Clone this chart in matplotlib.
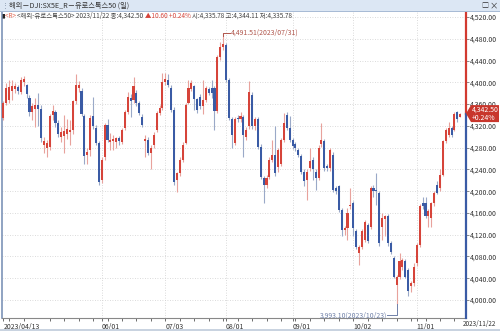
# -*- coding: utf-8 -*-
# Euro Stoxx 50 daily candles, HTS-style chart
import matplotlib
matplotlib.use('Agg')
import matplotlib.pyplot as plt
from matplotlib.patches import Polygon, Rectangle
import numpy as np
import pandas as pd

plt.rcParams['font.family'] = ['Noto Sans CJK KR', 'DejaVu Sans']

# trading days (Eurex, May 1 closed)
dates = pd.bdate_range('2023-04-13', '2023-11-22')
dates = dates[dates != pd.Timestamp('2023-05-01')]

opens = [4335, 4363, 4368, 4385, 4388, 4392, 4382, 4400, 4395, 4372,
         4346, 4352, 4358, 4352, 4284, 4280, 4282, 4340, 4345, 4325,
         4300, 4302, 4306, 4308, 4312, 4365, 4390, 4385, 4338, 4266,
         4275, 4339, 4317, 4289, 4221, 4262, 4322, 4290, 4292, 4290,
         4298, 4291, 4317, 4346, 4372, 4368, 4380, 4362, 4337, 4292,
         4295, 4271, 4285, 4313, 4344, 4353, 4400, 4405, 4390, 4350,
         4221, 4233, 4258, 4289, 4363, 4388, 4393, 4369, 4374, 4356,
         4368, 4387, 4390, 4390, 4347, 4446, 4465, 4468, 4405, 4332,
         4289, 4335, 4332, 4336, 4300, 4319, 4377, 4319, 4332, 4282,
         4224, 4212, 4227, 4258, 4267, 4245, 4250, 4295, 4340, 4316,
         4295, 4286, 4276, 4264, 4236, 4221, 4243, 4258, 4236, 4224,
         4286, 4292, 4246, 4243, 4267, 4206, 4209, 4166, 4129, 4132,
         4172, 4178, 4126, 4086, 4098, 4111, 4138, 4135, 4206, 4203,
         4197, 4135, 4149, 4154, 4105, 4077, 4028, 4043, 4061, 4071,
         4055, 4025, 4031, 4068, 4101, 4178, 4178, 4154, 4150, 4178,
         4212, 4206, 4230, 4292, 4304, 4316, 4313, 4345, 4335.78]
highs = [4366, 4399, 4405, 4405, 4398, 4396, 4410, 4412, 4397, 4376,
         4362, 4372, 4380, 4358, 4300, 4295, 4342, 4358, 4350, 4330,
         4318, 4340, 4332, 4330, 4368, 4415, 4402, 4390, 4342, 4280,
         4340, 4374, 4322, 4292, 4262, 4326, 4332, 4307, 4304, 4300,
         4302, 4316, 4350, 4383, 4378, 4409, 4386, 4366, 4341, 4304,
         4300, 4285, 4308, 4348, 4358, 4418, 4418, 4415, 4395, 4354,
         4236, 4262, 4290, 4362, 4405, 4405, 4396, 4372, 4378, 4405,
         4394, 4392, 4405, 4394, 4450, 4474, 4491.51, 4472, 4408, 4336,
         4336, 4340, 4345, 4340, 4318, 4402, 4382, 4336, 4336, 4286,
         4228, 4230, 4262, 4295, 4319, 4280, 4298, 4344, 4346, 4338,
         4298, 4290, 4280, 4268, 4240, 4240, 4280, 4262, 4240, 4284,
         4326, 4296, 4250, 4280, 4272, 4210, 4212, 4170, 4136, 4169,
         4206, 4182, 4130, 4102, 4130, 4147, 4142, 4210, 4212, 4233,
         4200, 4160, 4156, 4158, 4108, 4080, 4046, 4086, 4078, 4075,
         4058, 4035, 4068, 4105, 4176, 4190, 4190, 4168, 4180, 4200,
         4218, 4240, 4295, 4316, 4328, 4320, 4345, 4348, 4344.11]
lows = [4330, 4358, 4362, 4368, 4380, 4378, 4378, 4393, 4372, 4338,
        4330, 4318, 4320, 4290, 4270, 4262, 4276, 4330, 4318, 4300,
        4290, 4270, 4296, 4285, 4305, 4360, 4382, 4338, 4250, 4250,
        4265, 4315, 4285, 4212, 4215, 4258, 4290, 4276, 4276, 4280,
        4285, 4286, 4312, 4342, 4337, 4362, 4356, 4340, 4318, 4262,
        4266, 4240, 4280, 4308, 4340, 4350, 4396, 4392, 4346, 4212,
        4199, 4228, 4254, 4286, 4360, 4384, 4350, 4344, 4352, 4341,
        4364, 4376, 4372, 4313, 4343, 4442, 4460, 4400, 4330, 4280,
        4285, 4328, 4328, 4262, 4294, 4315, 4315, 4312, 4278, 4222,
        4179, 4205, 4222, 4254, 4228, 4236, 4246, 4290, 4312, 4290,
        4278, 4274, 4262, 4232, 4209, 4184, 4238, 4221, 4203, 4220,
        4282, 4238, 4238, 4238, 4198, 4194, 4162, 4117, 4120, 4111,
        4168, 4117, 4094, 4065, 4094, 4106, 4104, 4130, 4190, 4175,
        4100, 4111, 4117, 4100, 4085, 4040, 3993.10, 4038, 4055, 4040,
        4008, 4015, 4025, 4062, 4098, 4168, 4150, 4135, 4135, 4172,
        4195, 4200, 4228, 4288, 4300, 4300, 4310, 4328, 4335.78]
closes = [4362, 4390, 4392, 4393, 4393, 4384, 4405, 4407, 4378, 4345,
          4356, 4358, 4352, 4298, 4292, 4288, 4338, 4348, 4325, 4305,
          4308, 4310, 4314, 4312, 4365, 4395, 4396, 4342, 4265, 4272,
          4335, 4319, 4289, 4217, 4258, 4322, 4295, 4295, 4296, 4297,
          4292, 4313, 4346, 4374, 4366, 4393, 4362, 4344, 4322, 4296,
          4270, 4280, 4304, 4344, 4353, 4400, 4407, 4395, 4350, 4217,
          4233, 4258, 4285, 4359, 4390, 4398, 4369, 4350, 4356, 4368,
          4390, 4381, 4381, 4347, 4446, 4465, 4470, 4405, 4335, 4304,
          4332, 4332, 4338, 4304, 4312, 4383, 4319, 4332, 4282, 4227,
          4212, 4224, 4258, 4267, 4233, 4276, 4295, 4326, 4316, 4295,
          4283, 4280, 4267, 4236, 4218, 4236, 4255, 4240, 4224, 4280,
          4295, 4243, 4243, 4276, 4203, 4200, 4166, 4129, 4132, 4160,
          4175, 4132, 4098, 4098, 4126, 4143, 4108, 4206, 4200, 4200,
          4105, 4151, 4154, 4105, 4089, 4043, 4043, 4071, 4074, 4043,
          4016, 4031, 4061, 4101, 4172, 4172, 4154, 4163, 4178, 4197,
          4197, 4230, 4292, 4313, 4316, 4304, 4341, 4331.90, 4342.50]

o = np.array(opens); h = np.array(highs); l = np.array(lows); c = np.array(closes)
x = np.arange(len(dates))

RED, BLUE = '#d6443a', '#3a5ba5'
RED_W, BLUE_W = '#e8a29c', '#9aa9c8'
up = c >= o

W, H = 500, 331
fig = plt.figure(figsize=(W / 100, H / 100), dpi=100)
fig.patch.set_facecolor('white')

ax = fig.add_axes([2 / W, 13 / H, 464 / W, 306 / H])
ax.set_xlim(-0.5, 160.0)
ax.set_ylim(3966.9, 4529.4)

# grid
yt = np.arange(4000, 4521, 40)
for v in yt:
    ax.axhline(v, color='#cfcfcf', lw=0.6, ls=(0, (1, 2)), zorder=0)
month_idx = [i for i in range(1, len(dates)) if dates[i].month != dates[i - 1].month]
month_idx = [m for m in month_idx if m > 20]   # May start too close to the first label
for i in month_idx:
    ax.axvline(i, color='#cfcfcf', lw=0.6, ls=(0, (1, 2)), zorder=0)

# candles
ax.vlines(x, l, h, colors=np.where(up, RED_W, BLUE_W), lw=0.8, zorder=2)
body = np.maximum(np.abs(c - o), 1.5)
ax.bar(x, body, bottom=np.minimum(o, c), width=0.72,
       color=np.where(up, RED, BLUE), linewidth=0, zorder=3)

# x axis
ax.set_xticks([0] + month_idx)
ax.set_xticklabels(['2023/04/13'] + [dates[i].strftime('%m/%d') for i in month_idx],
                   ha='left', fontsize=5, color='#333333')
mondays = [i for i in range(len(dates)) if dates[i].dayofweek == 0]
ax.set_xticks(mondays, minor=True)
ax.tick_params(axis='x', which='both', direction='out', length=2, width=0.6,
               color='#555555', pad=1.5)

# y axis on the right
ax.yaxis.tick_right()
ax.set_yticks(yt)
ax.set_yticklabels(['{:,.2f}'.format(v) for v in yt], fontsize=5, color='#333333')
ax.tick_params(axis='y', direction='out', length=2, width=0.6, color='#777777', pad=0.5)

for s in ['top', 'right']:
    ax.spines[s].set_visible(False)
ax.spines['left'].set_color('#7d93b8')
ax.spines['left'].set_linewidth(1.2)
ax.spines['bottom'].set_color('#888888')
ax.spines['bottom'].set_linewidth(0.8)

# price axis line: red above last price, blue below
xr = ax.get_xlim()[1]
ax.plot([xr, xr], [c[-1], ax.get_ylim()[1]], color='#d23a30', lw=1.6, clip_on=False, zorder=5)
ax.plot([xr, xr], [ax.get_ylim()[0], c[-1]], color='#3a5ba5', lw=1.6, clip_on=False, zorder=5)

# high / low annotations
ih = int(np.argmax(h))
ax.plot([ih, ih, ih + 2.5], [h[ih] - 6, h[ih], h[ih]], color='#b0564c', lw=0.7, zorder=4)
ax.text(ih + 2.7, h[ih], '{:,.2f}({})'.format(h[ih], dates[ih].strftime('%Y/%m/%d')),
        fontsize=5, color='#b0564c', va='center', ha='left')
il = int(np.argmin(l))
ylow = l[il] - 21
ax.plot([il, il, il - 3.2], [l[il], ylow, ylow], color='#6f80a8', lw=0.7, zorder=4, clip_on=False)
ax.text(il - 3.4, ylow, '{:,.2f}({})'.format(l[il], dates[il].strftime('%Y/%m/%d')),
        fontsize=5, color='#6f80a8', va='center', ha='right')

# last date under the price axis
fig.text(463 / W, 1 - 324 / H, dates[-1].strftime('%Y/%m/%d'), fontsize=4.6,
         color='#333333', va='center', ha='left')

# current price tag
yp = 1 - 113.6 / H
tag = [(466 / W, yp), (471 / W, yp + 8.5 / H), (499 / W, yp + 8.5 / H),
       (499 / W, yp - 8.5 / H), (471 / W, yp - 8.5 / H)]
fig.add_artist(Polygon(tag, closed=True, transform=fig.transFigure,
                       facecolor='#c8362c', edgecolor='none', zorder=5))
chg = c[-1] - c[-2]
fig.text(472 / W, yp + 3.8 / H, '{:,.2f}'.format(c[-1]), fontsize=5, color='white',
         va='center', ha='left', zorder=6)
fig.text(472 / W, yp - 4.2 / H, '{:+.2f}%'.format(chg / c[-2] * 100), fontsize=5,
         color='white', va='center', ha='left', zorder=6)

# title bar
fig.add_artist(Rectangle((0, 1 - 11 / H), 1, 11 / H, transform=fig.transFigure,
                         facecolor='#dce7f4', edgecolor='none', zorder=1))
fig.add_artist(Rectangle((0, 1 - 11.6 / H), 1, 0.6 / H, transform=fig.transFigure,
                         facecolor='#a8bbd5', edgecolor='none', zorder=1))
fig.text(2 / W, 1 - 5.5 / H, '⋮', fontsize=5, color='#7a8aa0', va='center', ha='left')
fig.text(9 / W, 1 - 5.5 / H, '해외－DJI:SX5E_R－유로스톡스50 (일)', fontsize=5.2,
         color='#333333', va='center', ha='left')
fig.text(481 / W, 1 - 5.5 / H, '□', fontsize=5, color='#333333', va='center', ha='left')
fig.text(490 / W, 1 - 5.5 / H, '×', fontsize=6, color='#333333', va='center', ha='left')

# legend line, pieces laid out left to right
r = fig.canvas.get_renderer()
pieces = [('▮', '#222222'), ('<R> ', '#e0604a'),
          ('<해외-유로스톡스50> {} 종:{:,.2f} '.format(dates[-1].strftime('%Y/%m/%d'), c[-1]), '#444444'),
          ('▲{:.2f} {:+.2f}% '.format(chg, chg / c[-2] * 100), '#d6443a'),
          ('시:{:,.2f} 고:{:,.2f} 저:{:,.2f}'.format(o[-1], h[-1], l[-1]), '#444444')]
xx = 1.5 / W
for s, col in pieces:
    t = fig.text(xx, 1 - 15.5 / H, s, fontsize=4.6, color=col, va='center', ha='left', zorder=6)
    xx += t.get_window_extent(renderer=r).width / fig.bbox.width

# bottom strip
fig.add_artist(Rectangle((0, 0), 1, 2.5 / H, transform=fig.transFigure,
                         facecolor='#c9d3e0', edgecolor='none', zorder=1))

fig.savefig('out.png', dpi=100)
